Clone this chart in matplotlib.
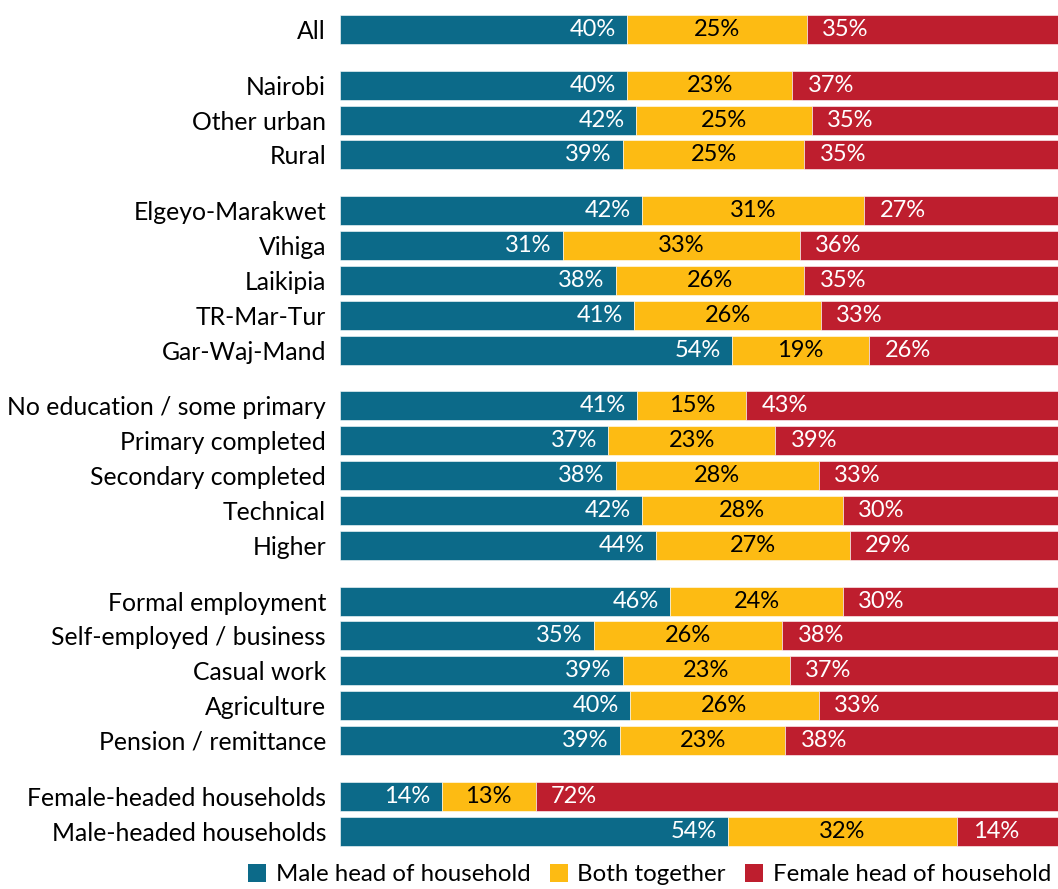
import matplotlib.pyplot as plt
from matplotlib.patches import Patch

plt.rcParams['font.family'] = ['Lato', 'DejaVu Sans']

# Who in the household makes the decision, shares in percent
groups = [
    ["All"],
    ["Nairobi", "Other urban", "Rural"],
    ["Elgeyo-Marakwet", "Vihiga", "Laikipia", "TR-Mar-Tur", "Gar-Waj-Mand"],
    ["No education / some primary", "Primary completed", "Secondary completed",
     "Technical", "Higher"],
    ["Formal employment", "Self-employed / business", "Casual work",
     "Agriculture", "Pension / remittance"],
    ["Female-headed households", "Male-headed households"],
]
male = [40, 40, 42, 39, 42, 31, 38, 41, 54, 41, 37, 38, 42, 44,
        46, 35, 39, 40, 39, 14, 54]
both = [25, 23, 25, 25, 31, 33, 26, 26, 19, 15, 23, 28, 28, 27,
        24, 26, 23, 26, 23, 13, 32]
female = [35, 37, 35, 35, 27, 36, 35, 33, 26, 43, 39, 33, 30, 29,
          30, 38, 37, 33, 38, 72, 14]

series_names = ["Male head of household", "Both together", "Female head of household"]
colors = ["#0C6A89", "#FDBB13", "#BE1E2E"]
text_colors = ["white", "black", "white"]

# row positions with a gap between groups
labels, ypos = [], []
y = 0.0
for g in groups:
    for name in g:
        labels.append(name)
        ypos.append(y)
        y += 1
    y += 0.6

fig = plt.figure(figsize=(10.58, 8.89), dpi=100)
ax = fig.add_axes([340 / 1058, 29 / 889, 718 / 1058, 860 / 889])

unit = 34.85
ax.set_ylim((860 - 29.5) / unit, -29.5 / unit)
ax.set_xlim(0, 100)

for i, yy in enumerate(ypos):
    vals = [male[i], both[i], female[i]]
    total = sum(vals)
    left = 0.0
    for k, v in enumerate(vals):
        w = v / total * 100
        ax.barh(yy, w, left=left, height=0.83, color=colors[k],
                edgecolor="white", linewidth=0.4)
        txt = f"{v}%"
        if k == 0:
            ax.annotate(txt, (left + w, yy), xytext=(-8, 0), textcoords="offset points",
                        ha="right", va="center", color=text_colors[k], fontsize=17)
        elif k == 1:
            ax.text(left + w / 2, yy, txt, ha="center", va="center",
                    color=text_colors[k], fontsize=17)
        else:
            ax.annotate(txt, (left, yy), xytext=(11, 0), textcoords="offset points",
                        ha="left", va="center", color=text_colors[k], fontsize=17)
        left += w

ax.set_yticks(ypos)
ax.set_yticklabels(labels, fontsize=17.8)
ax.tick_params(axis="y", length=0, pad=10)
ax.set_xticks([])
for s in ax.spines.values():
    s.set_visible(False)

handles = [Patch(facecolor=c, label=n) for c, n in zip(colors, series_names)]
fig.legend(handles=handles, loc="lower left", bbox_to_anchor=(248 / 1058, 0.004), ncol=3,
           frameon=False, fontsize=17.3, handlelength=0.75, handleheight=0.75,
           handletextpad=0.4, columnspacing=0.8, borderpad=0, borderaxespad=0)

fig.savefig("out.png", dpi=100)
